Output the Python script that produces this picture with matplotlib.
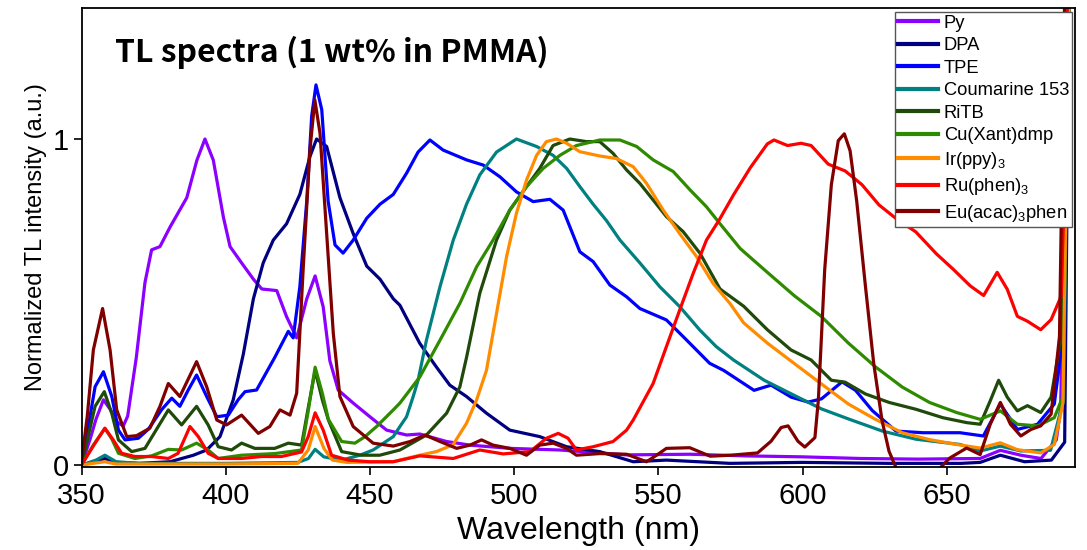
import matplotlib
matplotlib.use('Agg')
import matplotlib.pyplot as plt
import matplotlib.font_manager as font_manager

# ============================================================
#  数据 (wavelength nm, normalized TL intensity)
# ============================================================
py = [(350, 0.0), (353, 0.08), (355, 0.14), (357.6, 0.20), (360, 0.17), (362.5, 0.13),
      (364.5, 0.12), (366, 0.15), (369, 0.33), (372, 0.56), (374.3, 0.66), (377.2, 0.67),
      (380.7, 0.73), (386.5, 0.82), (390, 0.935), (392.8, 1.0), (395.7, 0.935), (399.2, 0.76),
      (401.5, 0.67), (405.5, 0.62), (409.6, 0.57), (412.5, 0.54), (417.7, 0.535), (421.1, 0.455),
      (424.6, 0.39), (428.1, 0.51), (431, 0.58), (433.8, 0.485), (436.1, 0.32), (439, 0.23),
      (444.2, 0.19), (450, 0.148), (455.8, 0.107), (462.7, 0.092), (467.3, 0.095), (476.6, 0.072),
      (484.7, 0.061), (498.5, 0.051), (515.9, 0.046), (539, 0.031), (561, 0.033), (580, 0.028),
      (600, 0.025), (620, 0.02), (640, 0.018), (661.6, 0.02), (668.6, 0.045), (675.7, 0.03),
      (682.7, 0.02), (688, 0.077), (689.5, 0.17), (690.6, 0.69), (692, 1.5)]

dpa = [(350, 0.0), (355, 0.01), (358, 0.02), (362, 0.008), (370, 0.005), (380.7, 0.01),
       (388.8, 0.03), (393.4, 0.046), (398, 0.087), (402.6, 0.2), (406.1, 0.34), (409.6, 0.51),
       (413, 0.62), (416.5, 0.69), (421.1, 0.74), (425.7, 0.83), (429.2, 0.946), (431.5, 1.0),
       (435, 0.977), (439.6, 0.82), (444.2, 0.71), (448.9, 0.61), (453.5, 0.57), (458.1, 0.51),
       (460.4, 0.49), (467.3, 0.373), (473.1, 0.30), (477.7, 0.245), (483.5, 0.21), (490.4, 0.159),
       (498.5, 0.107), (508.9, 0.087), (518.2, 0.056), (529.7, 0.041), (541.3, 0.01), (552.8, 0.015),
       (574.8, 0.005), (600, 0.008), (630, 0.005), (655, 0.005), (661.6, 0.008), (668.6, 0.03),
       (677, 0.01), (686.3, 0.015), (690.9, 0.07), (692.5, 1.5)]

tpe = [(350, 0.0), (352.4, 0.12), (354.7, 0.24), (357.6, 0.286), (360.5, 0.21), (362.8, 0.107),
       (365.1, 0.077), (369.7, 0.082), (373.2, 0.11), (377.8, 0.17), (381.3, 0.205), (384.1, 0.18),
       (387, 0.23), (389.9, 0.276), (393.4, 0.21), (396.9, 0.148), (400.9, 0.153), (404.3, 0.2),
       (406.7, 0.225), (410.7, 0.23), (417, 0.33), (421.7, 0.41), (423.4, 0.39), (425.7, 0.547),
       (428.1, 0.81), (429.8, 1.07), (431.3, 1.166), (433.3, 1.09), (435.5, 0.81), (437.9, 0.675),
       (440.7, 0.65), (444.2, 0.69), (448.9, 0.757), (453.5, 0.80), (458.1, 0.83), (462.7, 0.895),
       (466.7, 0.96), (470.8, 0.997), (475.4, 0.966), (483.5, 0.936), (489.3, 0.92), (495.1, 0.884),
       (500.8, 0.838), (506.6, 0.808), (512.4, 0.815), (517, 0.782), (522.8, 0.654), (527.4, 0.624),
       (533.2, 0.552), (539, 0.516), (543.6, 0.48), (552.8, 0.445), (558.6, 0.394), (567.8, 0.312),
       (572.7, 0.29), (583.2, 0.229), (589.1, 0.245), (596.1, 0.208), (602, 0.193), (606.6, 0.203),
       (613.7, 0.255), (618.4, 0.229), (624.2, 0.167), (632.4, 0.104), (641.8, 0.099), (654.6, 0.099),
       (662.7, 0.089), (668.6, 0.187), (674.5, 0.109), (681.5, 0.125), (687.3, 0.187), (690.3, 0.39),
       (692, 1.5)]

coumarine = [(350, 0.0), (355, 0.015), (358.1, 0.03), (362, 0.01), (370, 0.005), (400, 0.005),
             (425, 0.008), (428.7, 0.02), (431, 0.048), (434, 0.025), (440.2, 0.015), (446.5, 0.03),
             (451.1, 0.046), (458.1, 0.087), (460.4, 0.118), (462.7, 0.148), (465, 0.21),
             (466.7, 0.26), (469.6, 0.383), (474.3, 0.547), (478.9, 0.69), (483.5, 0.80),
             (488.1, 0.89), (493.9, 0.96), (500.8, 1.0), (507.8, 0.977), (513.5, 0.95), (518.2, 0.91),
             (522.8, 0.854), (527.4, 0.80), (532, 0.75), (536.7, 0.69), (543.6, 0.62), (550.5, 0.547),
             (557.4, 0.486), (564.4, 0.414), (570.1, 0.363), (576.1, 0.322), (586.7, 0.26),
             (598.4, 0.208), (606.6, 0.172), (616, 0.141), (627.7, 0.104), (639.4, 0.079),
             (654.6, 0.063), (661.6, 0.043), (668.6, 0.058), (675.7, 0.043), (686, 0.045),
             (690.5, 0.2), (692.5, 1.5)]

ritb = [(350, 0.0), (354.7, 0.18), (357.9, 0.225), (360.5, 0.158), (362.8, 0.077), (367.4, 0.041),
        (372, 0.051), (376.6, 0.118), (380.1, 0.169), (384.7, 0.123), (389.9, 0.18), (393.9, 0.123),
        (397.4, 0.056), (402, 0.046), (405.5, 0.067), (410.1, 0.051), (417, 0.051), (421.7, 0.067),
        (426.3, 0.061), (428.5, 0.17), (431, 0.29), (433.5, 0.2), (435.6, 0.138), (440.2, 0.041),
        (447.1, 0.03), (453.4, 0.03), (460.4, 0.046), (469.6, 0.092), (476.6, 0.159), (481.2, 0.24),
        (483.5, 0.33), (488.1, 0.527), (493.9, 0.69), (498.5, 0.782), (504.3, 0.854), (508.9, 0.91),
        (513.5, 0.98), (519.3, 1.0), (525.1, 0.992), (529.7, 0.992), (534.3, 0.956), (539, 0.905),
        (543.6, 0.864), (548.2, 0.813), (552.8, 0.762), (558.6, 0.716), (564.4, 0.65), (571.4, 0.54),
        (579.6, 0.487), (587.8, 0.415), (596, 0.353), (603, 0.322), (610, 0.26), (614.8, 0.254),
        (621.8, 0.218), (630, 0.192), (639.3, 0.171), (648.7, 0.145), (656.9, 0.13), (661.6, 0.125),
        (665.1, 0.197), (668, 0.26), (671, 0.208), (674.5, 0.166), (678, 0.182), (682.6, 0.161),
        (686.2, 0.208), (689.7, 0.394), (692, 1.5)]

cu_xant = [(350, 0.0), (354, 0.06), (358.1, 0.112), (360.5, 0.08), (362.8, 0.036), (368.5, 0.02),
           (374.3, 0.028), (380.1, 0.048), (384.7, 0.046), (389.9, 0.067), (393.9, 0.046),
           (397.4, 0.02), (405.5, 0.03), (417, 0.035), (426.3, 0.046), (428.5, 0.16), (431, 0.30),
           (433.5, 0.22), (435.6, 0.14), (440.2, 0.072), (444.8, 0.067), (448.3, 0.087),
           (452.3, 0.118), (458.1, 0.169), (460.4, 0.19), (467.3, 0.27), (474.3, 0.383),
           (481.2, 0.496), (487, 0.608), (492.7, 0.69), (498.5, 0.782), (504.3, 0.854),
           (510.1, 0.91), (515.9, 0.95), (521.6, 0.98), (529.7, 0.997), (536.7, 0.997),
           (542.5, 0.977), (548.2, 0.936), (555.2, 0.90), (561, 0.844), (566.7, 0.792),
           (571.4, 0.74), (578.4, 0.664), (587.8, 0.591), (597.2, 0.519), (606.5, 0.456),
           (615.9, 0.374), (625.3, 0.301), (634.6, 0.239), (644, 0.192), (653.4, 0.161),
           (661.6, 0.14), (668.6, 0.166), (674.5, 0.125), (681.5, 0.12), (687.3, 0.145),
           (690.3, 0.21), (692.5, 1.5)]

ir_ppy = [(350, 0.0), (358, 0.01), (362, 0.003), (400, 0.003), (425, 0.005), (428.6, 0.046),
          (431, 0.118), (434.1, 0.05), (437, 0.015), (442, 0.008), (458, 0.01), (467.3, 0.03),
          (473, 0.041), (478.8, 0.062), (483.5, 0.128), (487, 0.2), (490.4, 0.29), (493.9, 0.465),
          (497.4, 0.64), (500.8, 0.772), (504.3, 0.874), (507.8, 0.95), (511.2, 0.992),
          (514.7, 1.0), (518.2, 0.987), (522.8, 0.961), (529.7, 0.948), (535.5, 0.94),
          (541.3, 0.915), (545.9, 0.864), (551.7, 0.782), (557.4, 0.71), (563.2, 0.64),
          (569, 0.557), (574.8, 0.496), (579.6, 0.436), (587.8, 0.374), (597.2, 0.311),
          (606.5, 0.249), (615.9, 0.187), (625.3, 0.14), (634.6, 0.099), (644, 0.078),
          (653.4, 0.063), (661.6, 0.052), (668.6, 0.068), (674.5, 0.047), (682.6, 0.037),
          (687.3, 0.063), (690.3, 0.19), (692.5, 1.5)]

ru_phen = [(350, 0.0), (354.7, 0.067), (358.1, 0.113), (361, 0.077), (363.9, 0.036), (368.5, 0.026),
           (374.3, 0.026), (380.1, 0.02), (383.5, 0.036), (387.6, 0.118), (390.5, 0.087),
           (393.9, 0.036), (397.4, 0.02), (405.5, 0.02), (412.4, 0.026), (419.3, 0.026),
           (426.3, 0.04), (428.6, 0.087), (431, 0.16), (433.8, 0.107), (436.7, 0.03), (442.5, 0.015),
           (450, 0.01), (458.1, 0.01), (467.3, 0.028), (478.9, 0.02), (488.1, 0.046), (496.2, 0.034),
           (505.5, 0.041), (511.2, 0.082), (515.3, 0.097), (518.7, 0.082), (521.6, 0.046),
           (527.4, 0.056), (534.3, 0.072), (539, 0.107), (541.3, 0.138), (548.2, 0.25),
           (552.8, 0.363), (557.4, 0.475), (562.1, 0.588), (566.7, 0.69), (571, 0.75),
           (576.1, 0.829), (581.9, 0.912), (587.8, 0.985), (590.1, 0.997), (594.8, 0.98),
           (599.5, 0.987), (603, 0.98), (608.9, 0.923), (614.8, 0.902), (620.6, 0.86),
           (626.5, 0.798), (632.3, 0.757), (639.3, 0.715), (646.4, 0.648), (652.2, 0.601),
           (658.1, 0.55), (662.8, 0.52), (667.5, 0.591), (671, 0.539), (674.5, 0.456), (678, 0.441),
           (682.6, 0.415), (686.2, 0.446), (689.7, 0.518), (691, 0.9), (692, 1.5)]

eu_acac = [(350, 0.01), (352, 0.15), (354.1, 0.353), (357.3, 0.48), (359.9, 0.353), (362.2, 0.169),
           (365.7, 0.087), (369.1, 0.09), (373.7, 0.113), (377.2, 0.18), (380.1, 0.25),
           (384.1, 0.21), (389.9, 0.317), (393.4, 0.24), (396.9, 0.138), (400.3, 0.123),
           (405.5, 0.153), (411.3, 0.097), (415.3, 0.118), (418.8, 0.169), (422.3, 0.153),
           (424.6, 0.22), (426.9, 0.608), (429.2, 0.966), (430.9, 1.12), (432.7, 1.017), (435, 0.71),
           (437.3, 0.404), (439.6, 0.21), (444.2, 0.118), (451.1, 0.067), (458.1, 0.058),
           (463.9, 0.072), (469.1, 0.092), (474.3, 0.072), (480.1, 0.051), (484.7, 0.061),
           (488.7, 0.077), (492.7, 0.061), (498.5, 0.051), (504.3, 0.03), (508.9, 0.061),
           (513.5, 0.067), (518.2, 0.051), (521.6, 0.03), (529.7, 0.035), (539, 0.033),
           (545.9, 0.01), (549.4, 0.03), (552.8, 0.051), (560.9, 0.053), (568, 0.027), (575.1, 0.03),
           (584.4, 0.037), (589.1, 0.073), (592.6, 0.115), (595, 0.12), (598.4, 0.073),
           (600.8, 0.055), (604.3, 0.084), (605.5, 0.2), (607.7, 0.6), (610, 0.86), (612.4, 0.995),
           (614.5, 1.016), (616.5, 0.964), (618.8, 0.809), (621.8, 0.55), (624.7, 0.311),
           (627.6, 0.135), (630, 0.042), (633, -0.02), (642, -0.03), (647.6, -0.01), (651, 0.021),
           (656.9, 0.052), (661.6, 0.032), (665.1, 0.125), (668.6, 0.192), (672.1, 0.125),
           (675.7, 0.089), (679.2, 0.109), (682.6, 0.12), (686.2, 0.156), (689.1, 0.394), (691, 1.5)]

series = [
    ('Py', py, '#8B00FF'),
    ('DPA', dpa, '#000080'),
    ('TPE', tpe, '#0000FF'),
    ('Coumarine 153', coumarine, '#008080'),
    ('RiTB', ritb, '#1F4A0A'),
    ('Cu(Xant)dmp', cu_xant, '#2E8B00'),
    (r'Ir(ppy)$_3$', ir_ppy, '#FF8C00'),
    (r'Ru(phen)$_3$', ru_phen, '#FF0000'),
    (r'Eu(acac)$_3$phen', eu_acac, '#800000'),
]

# ============================================================
#  字体
# ============================================================
names = {f.name for f in font_manager.fontManager.ttflist}
has_narrow = 'Liberation Sans Narrow' in names
narrow = 'Liberation Sans Narrow' if has_narrow else 'Liberation Sans'
tick_size = 25 if has_narrow else 21
plt.rcParams['font.family'] = ['Liberation Sans', 'DejaVu Sans']
plt.rcParams['mathtext.default'] = 'regular'

# ============================================================
#  绘图
# ============================================================
fig = plt.figure(figsize=(10.87, 5.5), dpi=100)
ax = fig.add_axes([0.075, 0.151, 0.914, 0.8345])

for label, pts, color in series:
    wl = [p[0] for p in pts]
    val = [p[1] for p in pts]
    ax.plot(wl, val, color=color, lw=2.3, label=label, solid_joinstyle='round')

ax.set_xlim(350, 694.5)
ax.set_ylim(-0.006, 1.402)
ax.set_xticks([350, 400, 450, 500, 550, 600, 650])
ax.set_yticks([0, 1])
ax.tick_params(direction='out', length=6, width=1.2)
ax.tick_params(axis='x', pad=5)
ax.tick_params(axis='y', pad=3)
for lab in ax.get_xticklabels() + ax.get_yticklabels():
    lab.set_fontfamily(narrow)
    lab.set_fontsize(tick_size)
for sp in ax.spines.values():
    sp.set_linewidth(1.3)

ax.set_xlabel('Wavelength (nm)', fontsize=23, family=narrow, labelpad=4)
ax.set_ylabel('Normalized TL intensity (a.u.)', fontsize=17, labelpad=4)

ax.text(0.034, 0.882, 'TL spectra (1 wt% in PMMA)', transform=ax.transAxes,
        fontsize=23, fontweight='bold', va='baseline',
        family=['Noto Sans CJK JP', 'DejaVu Sans'])

leg = ax.legend(loc='upper right', bbox_to_anchor=(0.997, 0.991), borderaxespad=0,
                fontsize=13.2, handlelength=2.2, handletextpad=0.3, labelspacing=0.3,
                borderpad=0.15, fancybox=False, framealpha=1, edgecolor='#555555')
leg.get_frame().set_linewidth(1.0)
for line in leg.get_lines():
    line.set_linewidth(3)

plt.savefig('out.png', dpi=100)
